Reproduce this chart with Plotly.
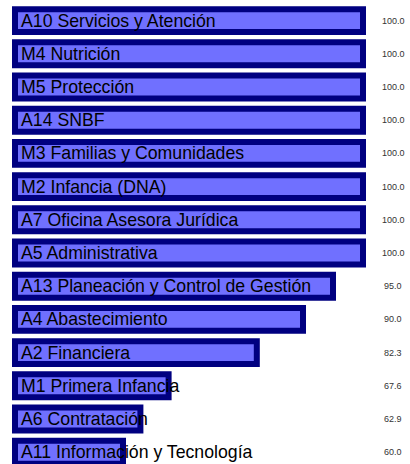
import plotly.graph_objects as go

categories = [
    "A10 Servicios y Atención",
    "M4 Nutrición",
    "M5 Protección",
    "A14 SNBF",
    "M3 Familias y Comunidades",
    "M2 Infancia (DNA)",
    "A7 Oficina Asesora Jurídica",
    "A5 Administrativa",
    "A13 Planeación y Control de Gestión",
    "A4 Abastecimiento",
    "A2 Financiera",
    "M1 Primera Infancia",
    "A6 Contratación",
    "A11 Información y Tecnología",
]
values = [100.0, 100.0, 100.0, 100.0, 100.0, 100.0, 100.0, 100.0, 95.0, 90.0, 82.3, 67.6, 62.9, 60.0]
value_labels = [f"{v:.1f}" for v in values]

AXIS_MIN = 39.5
BAR_BASE = 42.0
AXIS_MAX = AXIS_MIN + 410 / 6.0
VALUE_X = 105.0

fig = go.Figure()
fig.add_trace(go.Bar(
    y=categories,
    x=[v - BAR_BASE for v in values],
    base=BAR_BASE,
    orientation="h",
    marker=dict(color="rgb(112,112,255)", line=dict(color="#000080", width=6)),
    hoverinfo="skip",
))

annotations = []
for c, lab in zip(categories, categories):
    annotations.append(dict(
        x=BAR_BASE, y=c, xref="x", yref="y", text=lab, showarrow=False,
        xanchor="left", yanchor="middle", xshift=4,
        font=dict(family="Liberation Sans, Arial, sans-serif", size=17.7, color="#000000"),
    ))
for c, vl in zip(categories, value_labels):
    annotations.append(dict(
        x=VALUE_X, y=c, xref="x", yref="y", text=vl, showarrow=False,
        xanchor="center", yanchor="middle",
        font=dict(family="Liberation Sans, Arial, sans-serif", size=9, color="#333333"),
    ))

fig.update_layout(
    width=410, height=464,
    margin=dict(l=0, r=0, t=4, b=0),
    paper_bgcolor="white", plot_bgcolor="white",
    showlegend=False,
    bargap=0.31,
    annotations=annotations,
    xaxis=dict(range=[AXIS_MIN, AXIS_MAX], visible=False, fixedrange=True),
    yaxis=dict(type="category", categoryorder="array", categoryarray=categories,
               range=[-0.5 + 460 / 33.2, -0.5], visible=False, fixedrange=True),
)

fig.write_html(
    "out.html",
    config={"displayModeBar": False},
    post_script="document.body.style.margin='0';document.body.style.overflow='hidden';",
)
